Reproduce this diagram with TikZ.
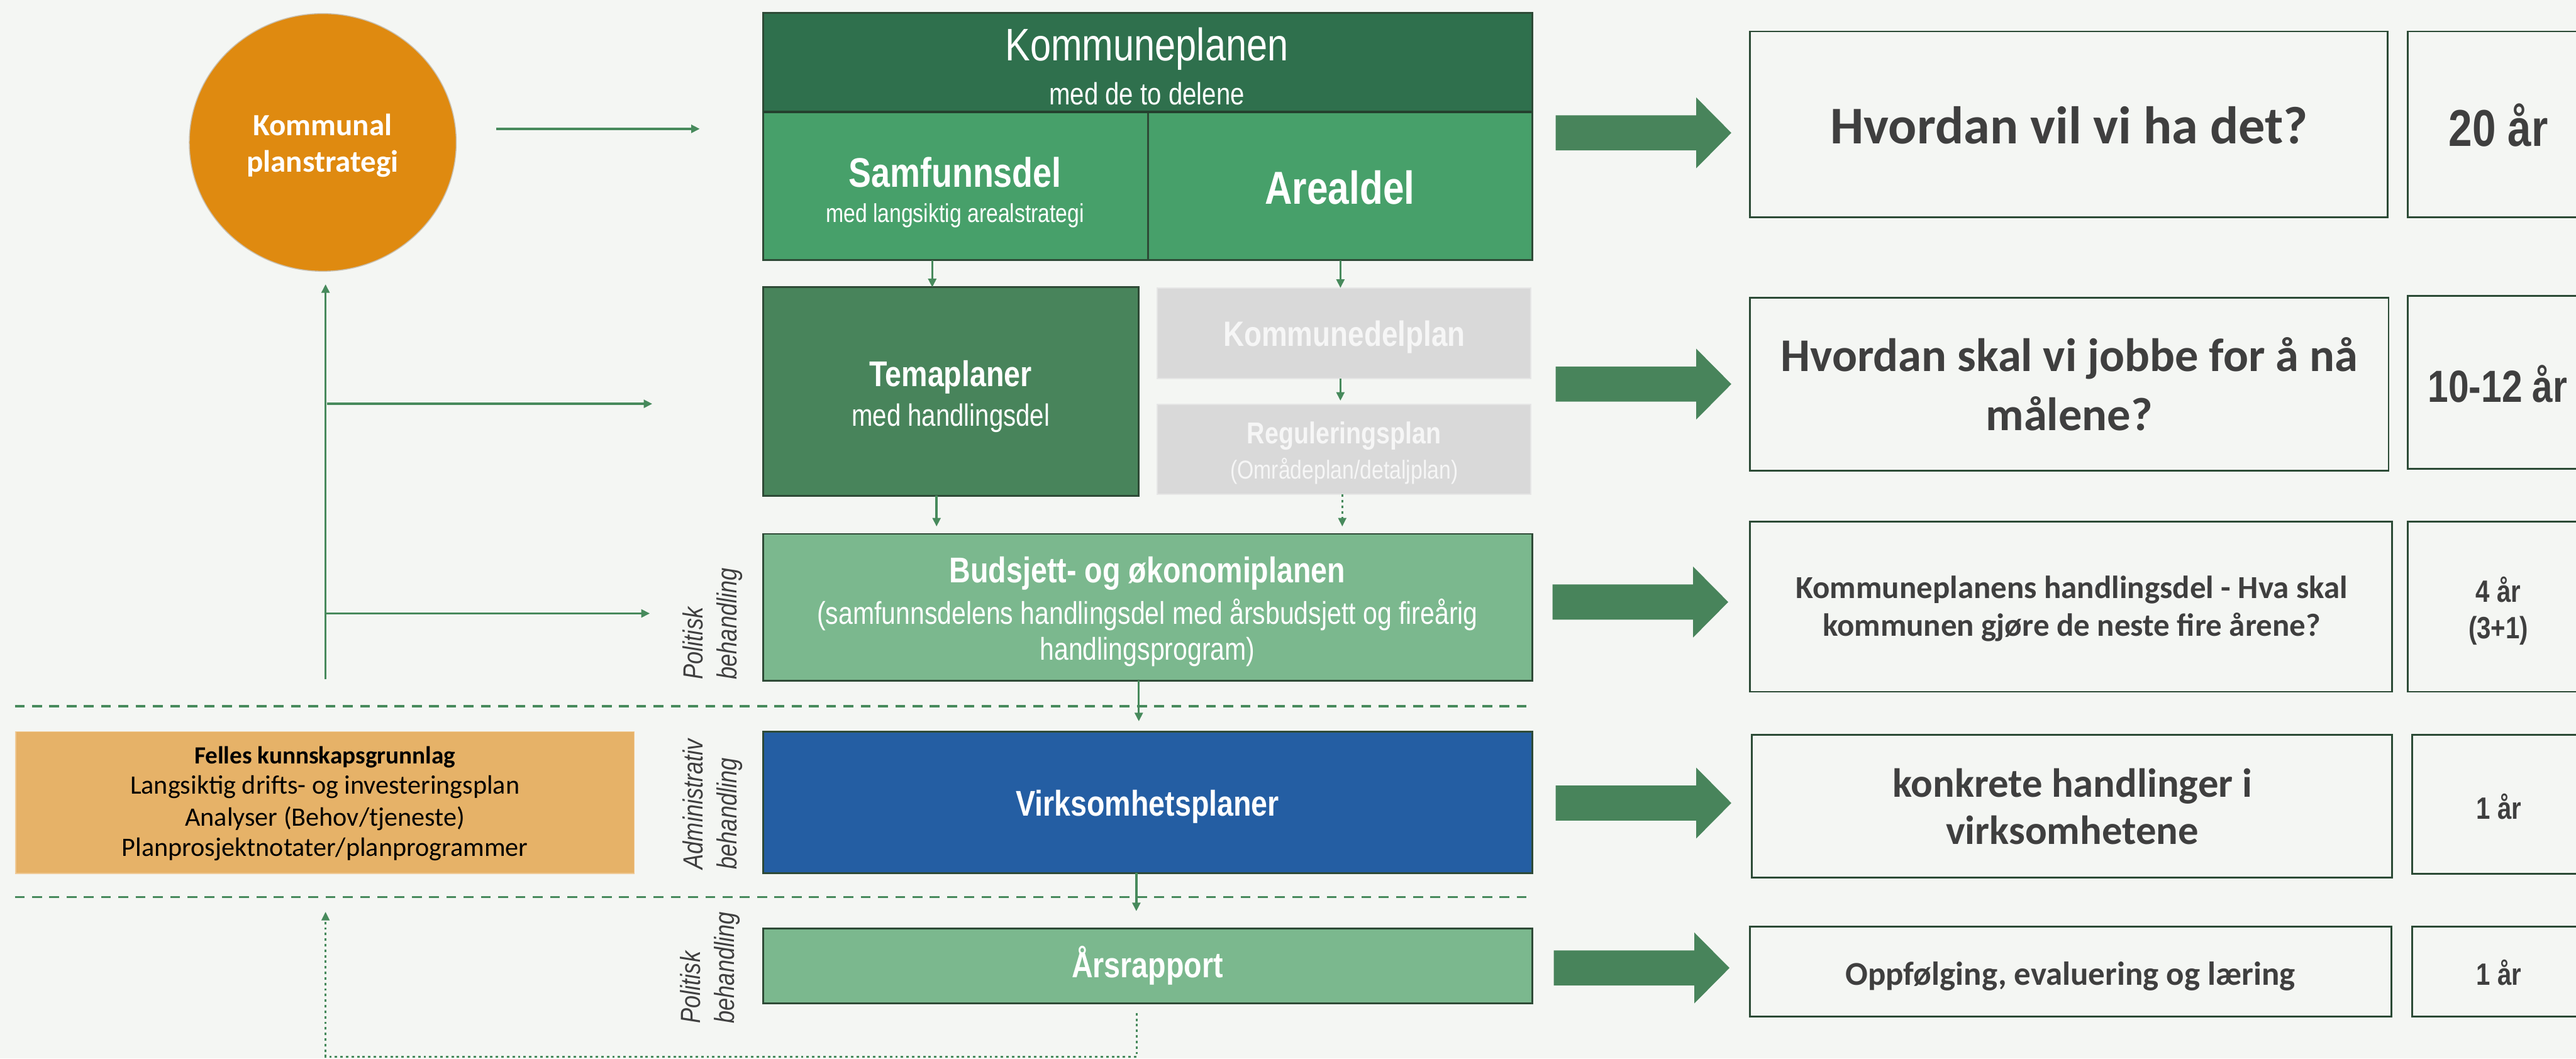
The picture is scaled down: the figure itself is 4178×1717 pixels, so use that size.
\documentclass[tikz,border=0pt]{standalone}
\usepackage{fontspec}
\setmainfont{Liberation Sans}
\newfontfamily\narrowfont[FakeStretch=0.82]{Liberation Sans}
\newfontfamily\calfont{Carlito}
\usetikzlibrary{arrows.meta,shapes.geometric}
\definecolor{bgc}{HTML}{F4F6F3}
\definecolor{hdrc}{HTML}{2F704D}
\definecolor{samfc}{HTML}{47A06A}
\definecolor{temac}{HTML}{48845B}
\definecolor{budc}{HTML}{7BB88E}
\definecolor{virkc}{HTML}{245EA3}
\definecolor{grayc}{HTML}{D9D9D9}
\definecolor{gline}{HTML}{E6E6E6}
\definecolor{gtext}{HTML}{F6F6F6}
\definecolor{orangec}{HTML}{DF8A10}
\definecolor{circline}{HTML}{C9BFAE}
\definecolor{orbox}{HTML}{E6B268}
\definecolor{orline}{HTML}{F0CA96}
\definecolor{arrowc}{HTML}{48845B}
\definecolor{lgreen}{HTML}{478A5C}
\definecolor{boxline}{HTML}{2E4A36}
\definecolor{divc}{HTML}{24402E}
\definecolor{rline}{HTML}{2B4A35}
\definecolor{txtgray}{HTML}{3F3F3F}
\newcommand\bigarrow[3]{%
  \fill[arrowc] (#1,#2-28.5) -- (#3-57,#2-28.5) -- (#3-57,#2-57.5) -- (#3,#2)
    -- (#3-57,#2+57.5) -- (#3-57,#2+28.5) -- (#1,#2+28.5) -- cycle;}
\tikzset{
  box/.style={draw=boxline, line width=3pt, inner sep=0pt, outer sep=0pt},
  gbox/.style={draw=gline, line width=2pt, fill=grayc, inner sep=0pt, outer sep=0pt},
  rbox/.style={draw=rline, line width=3pt, inner sep=0pt, outer sep=0pt},
  lbl/.style={inner sep=0pt, outer sep=0pt, align=center, text=white},
  rtxt/.style={inner sep=0pt, outer sep=0pt, align=center, text=txtgray},
  conn/.style={draw=lgreen, line width=3.5pt, -{Triangle[length=14pt,width=13pt]}},
  connd/.style={conn, line width=3pt, dash pattern=on 4pt off 5pt},
  sepline/.style={draw=lgreen, line width=4pt, dash pattern=on 16pt off 12pt},
  rotlbl/.style={rotate=90, anchor=north west, inner sep=0pt, outer sep=0pt, align=left,
    text=txtgray, font=\narrowfont\itshape\fontsize{45}{55}\selectfont},
  mbold/.style={font=\narrowfont\bfseries\fontsize{#1}{#1}\selectfont},
  mreg/.style={font=\narrowfont\fontsize{#1}{#1}\selectfont},
  cbold/.style={font=\calfont\bfseries\fontsize{#1}{#1}\selectfont},
  creg/.style={font=\calfont\fontsize{#1}{#1}\selectfont},
}
\begin{document}
\begin{tikzpicture}[x=1pt,y=-1pt]
\useasboundingbox (0,0) rectangle (4178,1717);
\clip (0,0) rectangle (4178,1717);
\fill[bgc] (0,0) rectangle (4178,1717);

% ---------- main column boxes
\node[box, fill=samfc, minimum width=624pt, minimum height=240pt] (samf) at (1550,302) {};
\node[box, fill=samfc, minimum width=623pt, minimum height=240pt] (areal) at (2173.5,302) {};
\node[box, fill=hdrc, minimum width=1247pt, minimum height=161pt] (hdr) at (1861.5,101.5) {};
\draw[divc, line width=4pt] (hdr.south west) -- (hdr.south east);
\node[box, fill=temac, minimum width=609pt, minimum height=338pt] (tema) at (1542.5,635) {};
\node[gbox, minimum width=606pt, minimum height=147pt] (kdp) at (2180,540.5) {};
\node[gbox, minimum width=606pt, minimum height=146pt] (reg) at (2180,729) {};
\node[box, fill=budc, minimum width=1247pt, minimum height=238pt] (bud) at (1861.5,985) {};
\node[box, fill=virkc, minimum width=1247pt, minimum height=229pt] (virk) at (1861.5,1301.5) {};
\node[box, fill=budc, minimum width=1247pt, minimum height=121pt] (aars) at (1861.5,1566.5) {};

% ---------- main column texts
\node[lbl, mreg=74] (t-hdr1) at (1860,79) {Kommuneplanen};
\node[lbl, mreg=50] (t-hdr2) at (1860,152) {med de to delene};
\node[lbl, mbold=67] (t-samf1) at (1549,279) {Samfunnsdel};
\node[lbl, mreg=42] (t-samf2) at (1549,350) {med langsiktig arealstrategi};
\node[lbl, mbold=75] (t-areal) at (2173,304) {Arealdel};
\node[lbl, mbold=58] (t-tema1) at (1542,612) {Temaplaner};
\node[lbl, mreg=50] (t-tema2) at (1542,678) {med handlingsdel};
\node[lbl, text=gtext, mbold=57] (t-kdp) at (2180,547) {Kommunedelplan};
\node[lbl, text=gtext, mbold=49] (t-reg1) at (2180,707) {Reguleringsplan};
\node[lbl, text=gtext, mreg=42] (t-reg2) at (2180,764) {(Områdeplan/detaljplan)};
\node[lbl, mbold=58] (t-bud1) at (1861,930) {Budsjett- og økonomiplanen};
\node[lbl, mreg=51] (t-bud2) at (1861,997) {(samfunnsdelens handlingsdel med årsbudsjett og fireårig};
\node[lbl, mreg=51] (t-bud3) at (1861,1057) {handlingsprogram)};
\node[lbl, mbold=58] (t-virk) at (1861,1308) {Virksomhetsplaner};
\node[lbl, mbold=58] (t-aars) at (1861,1566) {Årsrapport};

% ---------- circle
\node[ellipse, fill=orangec, draw=circline, line width=1.5pt, minimum width=433pt,
      minimum height=418pt, inner sep=0pt, outer sep=0pt] (circ) at (523.5,231) {};
\node[lbl, cbold=50] (t-c1) at (523,202) {Kommunal};
\node[lbl, cbold=50] (t-c2) at (523,266) {planstrategi};

% ---------- orange knowledge box
\node[fill=orbox, draw=orline, line width=1.5pt, minimum width=1003pt, minimum height=230pt,
      inner sep=0pt, outer sep=0pt] (felles) at (527,1302) {};
\node[lbl, text=black, cbold=40] (t-f1) at (527,1228) {Felles kunnskapsgrunnlag};
\node[lbl, text=black, creg=43] (t-f2) at (527,1277) {Langsiktig drifts- og investeringsplan};
\node[lbl, text=black, creg=43] (t-f3) at (527,1328) {Analyser (Behov/tjeneste)};
\node[lbl, text=black, creg=43] (t-f4) at (527,1378) {Planprosjektnotater/planprogrammer};

% ---------- rotated labels
\node[rotlbl] (lab-pol1) at (1107,1102) {Politisk\\behandling};
\node[rotlbl] (lab-adm) at (1107,1410) {Administrativ\\behandling};
\node[rotlbl] (lab-pol2) at (1103,1660) {Politisk\\behandling};

% ---------- big arrows
\bigarrow{2523}{215.5}{2808}
\bigarrow{2523}{623}{2808}
\bigarrow{2518}{976.5}{2803}
\bigarrow{2523}{1302.5}{2808}
\bigarrow{2520}{1570}{2805}

% ---------- right boxes
\node[rbox, minimum width=1034pt, minimum height=301pt] (r1) at (3355,201.5) {};
\node[rbox, minimum width=1036pt, minimum height=280pt] (r2) at (3356,623) {};
\node[rbox, minimum width=1042pt, minimum height=276pt] (r3) at (3359,984) {};
\node[rbox, minimum width=1039pt, minimum height=231pt] (r4) at (3360.5,1307.5) {};
\node[rbox, minimum width=1041pt, minimum height=146pt] (r5) at (3358.5,1576) {};
\node[rbox, minimum width=295pt, minimum height=301pt] (s1) at (4052.5,201.5) {};
\node[rbox, minimum width=295pt, minimum height=280pt] (s2) at (4052.5,620) {};
\node[rbox, minimum width=295pt, minimum height=276pt] (s3) at (4052.5,984) {};
\node[rbox, minimum width=288pt, minimum height=225pt] (s4) at (4056,1304.5) {};
\node[rbox, minimum width=288pt, minimum height=146pt] (s5) at (4056,1576) {};

\node[rtxt, cbold=86] (t-r1) at (3356,203.5) {Hvordan vil vi ha det?};
\node[rtxt, cbold=76] (t-r2a) at (3356,581) {Hvordan skal vi jobbe for å nå};
\node[rtxt, cbold=76] (t-r2b) at (3356,671) {målene?};
\node[rtxt, cbold=52] (t-r3a) at (3360,957) {Kommuneplanens handlingsdel - Hva skal};
\node[rtxt, cbold=52] (t-r3b) at (3360,1017) {kommunen gjøre de neste fire årene?};
\node[rtxt, cbold=66] (t-r4a) at (3361,1275) {konkrete handlinger i};
\node[rtxt, cbold=66] (t-r4b) at (3361,1346) {virksomhetene};
\node[rtxt, cbold=54] (t-r5) at (3358,1583) {Oppfølging, evaluering og læring};

\node[rtxt, mbold=84] (t-s1) at (4052,203.5) {20 år};
\node[rtxt, mbold=73] (t-s2) at (4051,623) {10-12 år};
\node[rtxt, mbold=50] (t-s3a) at (4052,956) {4 år};
\node[rtxt, mbold=50] (t-s3b) at (4052,1023) {(3+1)};
\node[rtxt, mbold=50] (t-s4) at (4053,1308) {1 år};
\node[rtxt, mbold=50] (t-s5) at (4053,1578) {1 år};

% ---------- separators
\coordinate (d1a) at (24,1145); \coordinate (d1b) at (2480,1145);
\coordinate (d2a) at (24,1455); \coordinate (d2b) at (2480,1455);
\draw[sepline] (d1a) -- (d1b);
\draw[sepline] (d2a) -- (d2b);

% ---------- connectors
\coordinate (cs) at (805,209); \coordinate (ce) at (1135,209);
\draw[conn] (cs) -- (ce);
\coordinate (vb) at (528,1102);
\draw[conn, shorten >=21pt] (vb) -- (circ.south -| vb);
\coordinate (h1s) at (530,655); \coordinate (h1e) at (1058,655);
\coordinate (h2s) at (528,995); \coordinate (h2e) at (1054,995);
\draw[conn] (h1s) -- (h1e);
\draw[conn] (h2s) -- (h2e);

\coordinate (xa) at (1512,0); \coordinate (xb) at (2174,0); \coordinate (xc) at (1519,0);
\coordinate (xd) at (2177,0); \coordinate (xe) at (1847,0); \coordinate (xf) at (1843,0);
\draw[conn] (samf.south -| xa) -- (tema.north -| xa);
\draw[conn] (areal.south -| xb) -- (kdp.north -| xb);
\draw[conn, shorten >=6pt] (kdp.south -| xb) -- (reg.north -| xb);
\draw[conn, shorten >=12pt] (tema.south -| xc) -- (bud.north -| xc);
\draw[connd, shorten >=12pt] (reg.south -| xd) -- (bud.north -| xd);
\draw[conn, shorten >=17pt] (bud.south -| xe) -- (virk.north -| xe);
\draw[conn, shorten >=28pt] (virk.south -| xf) -- (aars.north -| xf);

\coordinate (lb) at (1844,1714); \coordinate (ll) at (528,1714); \coordinate (lt) at (528,1479);
\draw[connd, shorten <=16pt] (aars.south -| lb) -- (lb) -- (ll) -- (lt);
\end{tikzpicture}
\end{document}
